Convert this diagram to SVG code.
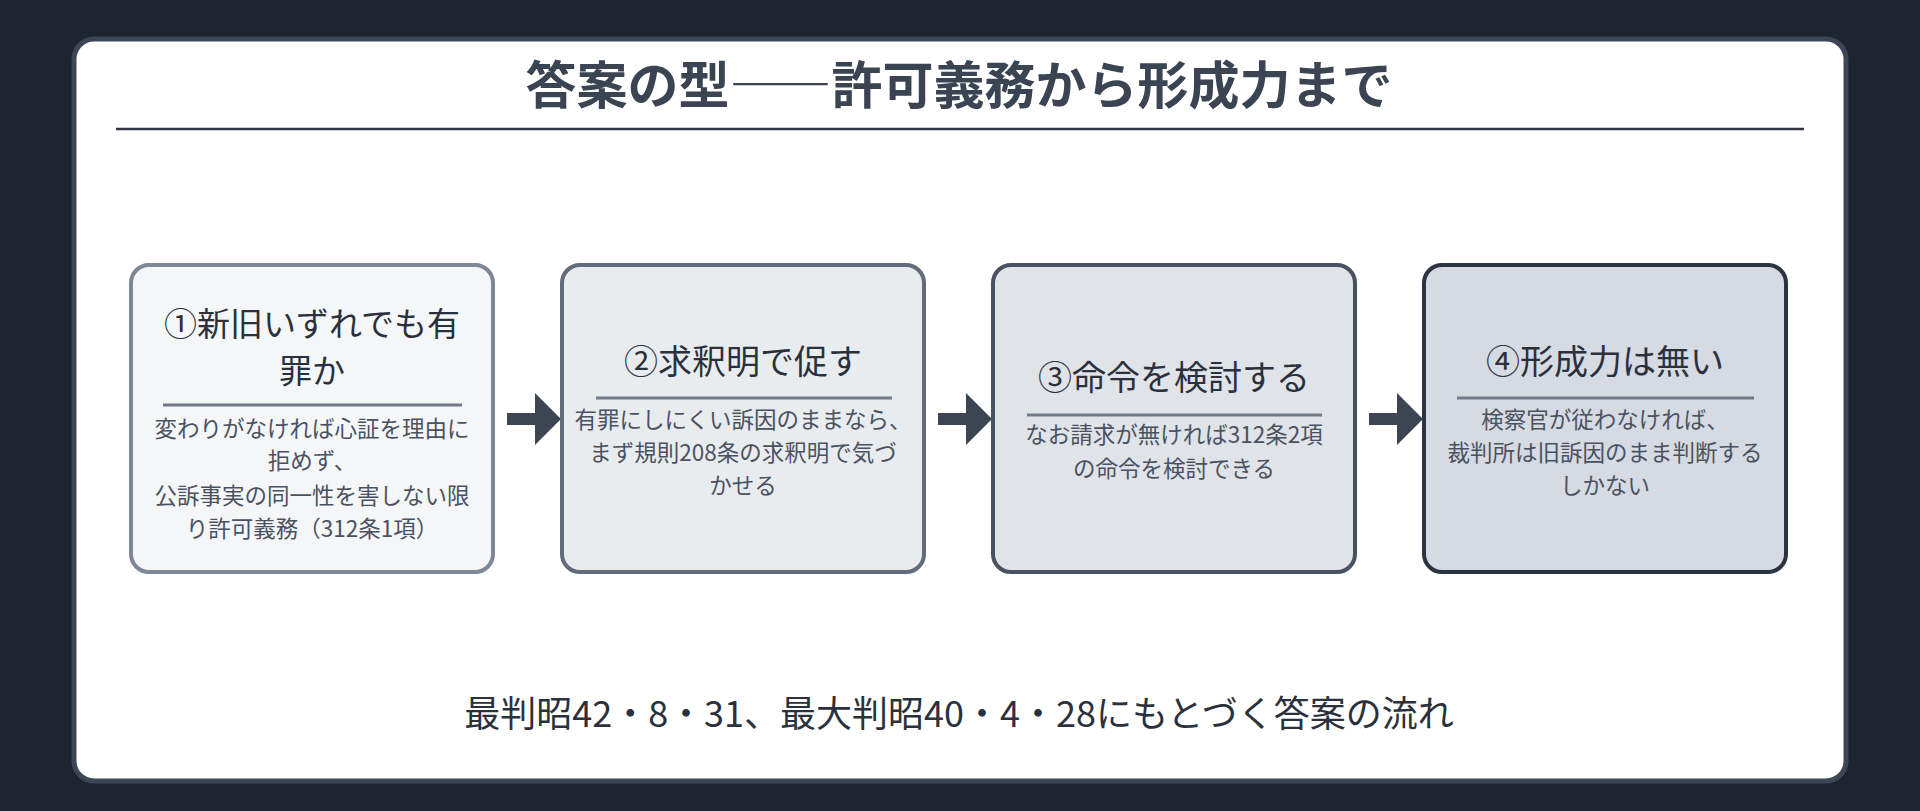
<svg xmlns="http://www.w3.org/2000/svg" width="1920" height="811" viewBox="0 0 1920 811">
<style>
text{font-family:"Noto Sans CJK JP","Noto Sans",sans-serif;text-anchor:middle}
.t{font-size:34px;fill:#2a313c}
.t1{font-size:33px;fill:#2a313c}
.b{font-size:22.5px;fill:#4a5261}
.sep{stroke:#737b88;stroke-width:3}
.arr{fill:#3d4553}
</style>
<rect width="1920" height="811" fill="#1e2530"/>
<rect x="74" y="39" width="1772" height="742" rx="20" fill="#fff" stroke="#3c4656" stroke-width="5"/>
<text x="959" y="104" style="font-size:51px;font-weight:bold;fill:#3a4453">答案の型――許可義務から形成力まで</text>
<line x1="116" y1="129" x2="1804" y2="129" stroke="#2f3642" stroke-width="2.5"/>
<g id="connectors">
<path class="arr" d="M507 413h28v-20l26 26-26 26v-20h-28z"/>
<path class="arr" d="M938 413h28v-20l26 26-26 26v-20h-28z"/>
<path class="arr" d="M1369 413h28v-20l26 26-26 26v-20h-28z"/>
</g>
<g id="n1">
<rect x="131" y="265" width="362" height="307" rx="18" fill="#f5f6f8" stroke="#7d8795" stroke-width="4"/>
<text class="t1" x="312" y="336">①新旧いずれでも有</text>
<text class="t1" x="312" y="383">罪か</text>
<line class="sep" x1="163" y1="405" x2="462" y2="405"/>
<text class="b" x="312" y="437">変わりがなければ心証を理由に</text>
<text class="b" x="312" y="469">拒めず、</text>
<text class="b" x="312" y="504">公訴事実の同一性を害しない限</text>
<text class="b" x="312" y="537">り許可義務（312条1項）</text>
</g>
<g id="n2">
<rect x="562" y="265" width="362" height="307" rx="18" fill="#e9ecef" stroke="#636c7a" stroke-width="4"/>
<text class="t" x="743" y="374">②求釈明で促す</text>
<line class="sep" x1="596" y1="398" x2="892" y2="398"/>
<text class="b" x="743" y="428">有罪にしにくい訴因のままなら、</text>
<text class="b" x="743" y="461">まず規則208条の求釈明で気づ</text>
<text class="b" x="743" y="494">かせる</text>
</g>
<g id="n3">
<rect x="993" y="265" width="362" height="307" rx="18" fill="#e0e3e8" stroke="#4a5261" stroke-width="4"/>
<text class="t" x="1174" y="390">③命令を検討する</text>
<line class="sep" x1="1027" y1="415" x2="1322" y2="415"/>
<text class="b" x="1174" y="443">なお請求が無ければ312条2項</text>
<text class="b" x="1174" y="477">の命令を検討できる</text>
</g>
<g id="n4">
<rect x="1424" y="265" width="362" height="307" rx="18" fill="#d6dae2" stroke="#2c3441" stroke-width="4"/>
<text class="t" x="1605" y="374">④形成力は無い</text>
<line class="sep" x1="1457" y1="398" x2="1754" y2="398"/>
<text class="b" x="1605" y="428">検察官が従わなければ、</text>
<text class="b" x="1605" y="461">裁判所は旧訴因のまま判断する</text>
<text class="b" x="1605" y="494">しかない</text>
</g>
<text x="959" y="727" style="font-size:36px;fill:#2a313c">最判昭42・8・31、最大判昭40・4・28にもとづく答案の流れ</text>
</svg>
